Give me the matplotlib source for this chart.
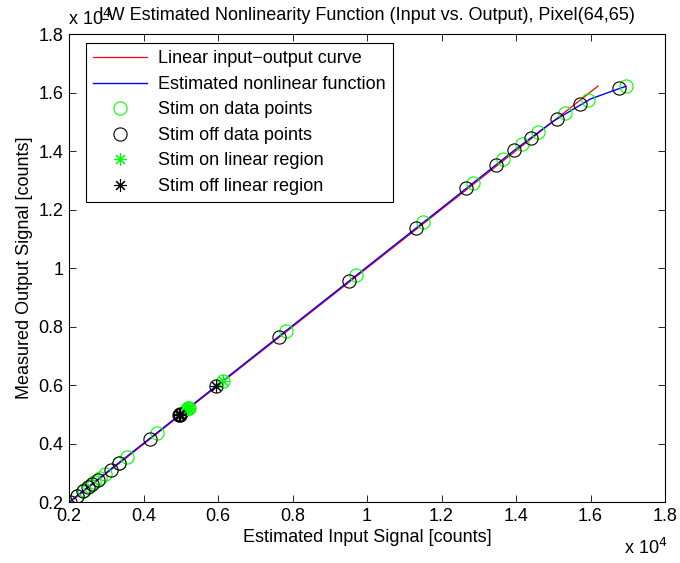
import matplotlib
matplotlib.use("Agg")
import matplotlib.pyplot as plt
from matplotlib.ticker import FuncFormatter

plt.rcParams["font.family"] = ["Liberation Sans", "DejaVu Sans"]

# =========================
# data (units of 1e4 counts)
# =========================

linear_x = [0.2, 1.62]
linear_y = [0.197, 1.622]

nonlin_x = [0.2, 0.5, 0.8, 1.0, 1.2, 1.4, 1.5, 1.6, 1.676, 1.695]
nonlin_y = [0.2, 0.501, 0.803, 1.004, 1.205, 1.407, 1.502, 1.578, 1.613, 1.621]

off_x = [0.203, 0.222, 0.237, 0.250, 0.262, 0.278, 0.314, 0.334, 0.417,
         0.495, 0.497, 0.499, 0.595, 0.764, 0.952, 1.131, 1.266, 1.346,
         1.395, 1.440, 1.510, 1.572, 1.676]
off_y = [0.200, 0.222, 0.237, 0.250, 0.262, 0.276, 0.311, 0.333, 0.416,
         0.497, 0.499, 0.501, 0.596, 0.764, 0.956, 1.138, 1.273, 1.352,
         1.402, 1.445, 1.510, 1.561, 1.614]

on_x = [0.222, 0.240, 0.256, 0.268, 0.282, 0.297, 0.334, 0.355, 0.436,
        0.516, 0.519, 0.521, 0.614, 0.783, 0.970, 1.150, 1.285, 1.365,
        1.416, 1.459, 1.532, 1.593, 1.695]
on_y = [0.222, 0.240, 0.256, 0.268, 0.282, 0.297, 0.334, 0.355, 0.436,
        0.517, 0.520, 0.522, 0.614, 0.785, 0.975, 1.156, 1.292, 1.372,
        1.423, 1.465, 1.529, 1.574, 1.621]

# indices inside the linear region
lin_idx = [9, 10, 11, 12]

ticks = [0.2, 0.4, 0.6, 0.8, 1.0, 1.2, 1.4, 1.6, 1.8]

FS = 13
ASTERISK = (8, 2, 0)

# =========================
# plot
# =========================

fig = plt.figure(figsize=(6.8, 5.63), dpi=100)
ax = fig.add_axes([0.1015, 0.1083, 0.8765, 0.8313])

ax.plot(linear_x, linear_y, color="red", lw=0.9,
        label="Linear input\u2212output curve")
ax.plot(nonlin_x, nonlin_y, color="blue", lw=1.0,
        label="Estimated nonlinear function")
ax.plot(on_x, on_y, "o", mfc="none", mec=(0, 1, 0), ms=9.5, mew=0.8,
        label="Stim on data points")
ax.plot(off_x, off_y, "o", mfc="none", mec="black", ms=9.5, mew=0.8,
        label="Stim off data points")
ax.plot([on_x[i] for i in lin_idx], [on_y[i] for i in lin_idx],
        marker=ASTERISK, ls="none", color=(0, 1, 0), ms=9, mew=0.8,
        label="Stim on linear region")
ax.plot([off_x[i] for i in lin_idx], [off_y[i] for i in lin_idx],
        marker=ASTERISK, ls="none", color="black", ms=9, mew=0.8,
        label="Stim off linear region")

ax.set_xlim(0.2, 1.8)
ax.set_ylim(0.2, 1.8)
ax.set_xticks(ticks)
ax.set_yticks(ticks)
fmt = FuncFormatter(lambda v, p: f"{v:g}")
ax.xaxis.set_major_formatter(fmt)
ax.yaxis.set_major_formatter(fmt)
ax.tick_params(direction="in", top=True, right=True, labelsize=FS,
               length=5, width=0.6, pad=4)
for s in ax.spines.values():
    s.set_linewidth(0.8)

ax.set_xlabel("Estimated Input Signal [counts]", fontsize=FS, labelpad=3)
ax.set_ylabel("Measured Output Signal [counts]", fontsize=FS, labelpad=4)
ax.set_title("LW Estimated Nonlinearity Function (Input vs. Output), Pixel(64,65)",
             fontsize=FS, pad=10)

fig.text(0.100, 0.955, r"x 10$^4$", fontsize=FS)
fig.text(0.917, 0.016, r"x 10$^4$", fontsize=FS)

leg = ax.legend(loc="upper left", bbox_to_anchor=(0.022, 0.988), fontsize=FS,
                fancybox=False, edgecolor="black", framealpha=1,
                handlelength=3.0, handletextpad=0.6, labelspacing=0.47,
                borderpad=0.4, borderaxespad=0.2)
leg.get_frame().set_linewidth(0.8)

fig.savefig("out.png", dpi=100)
